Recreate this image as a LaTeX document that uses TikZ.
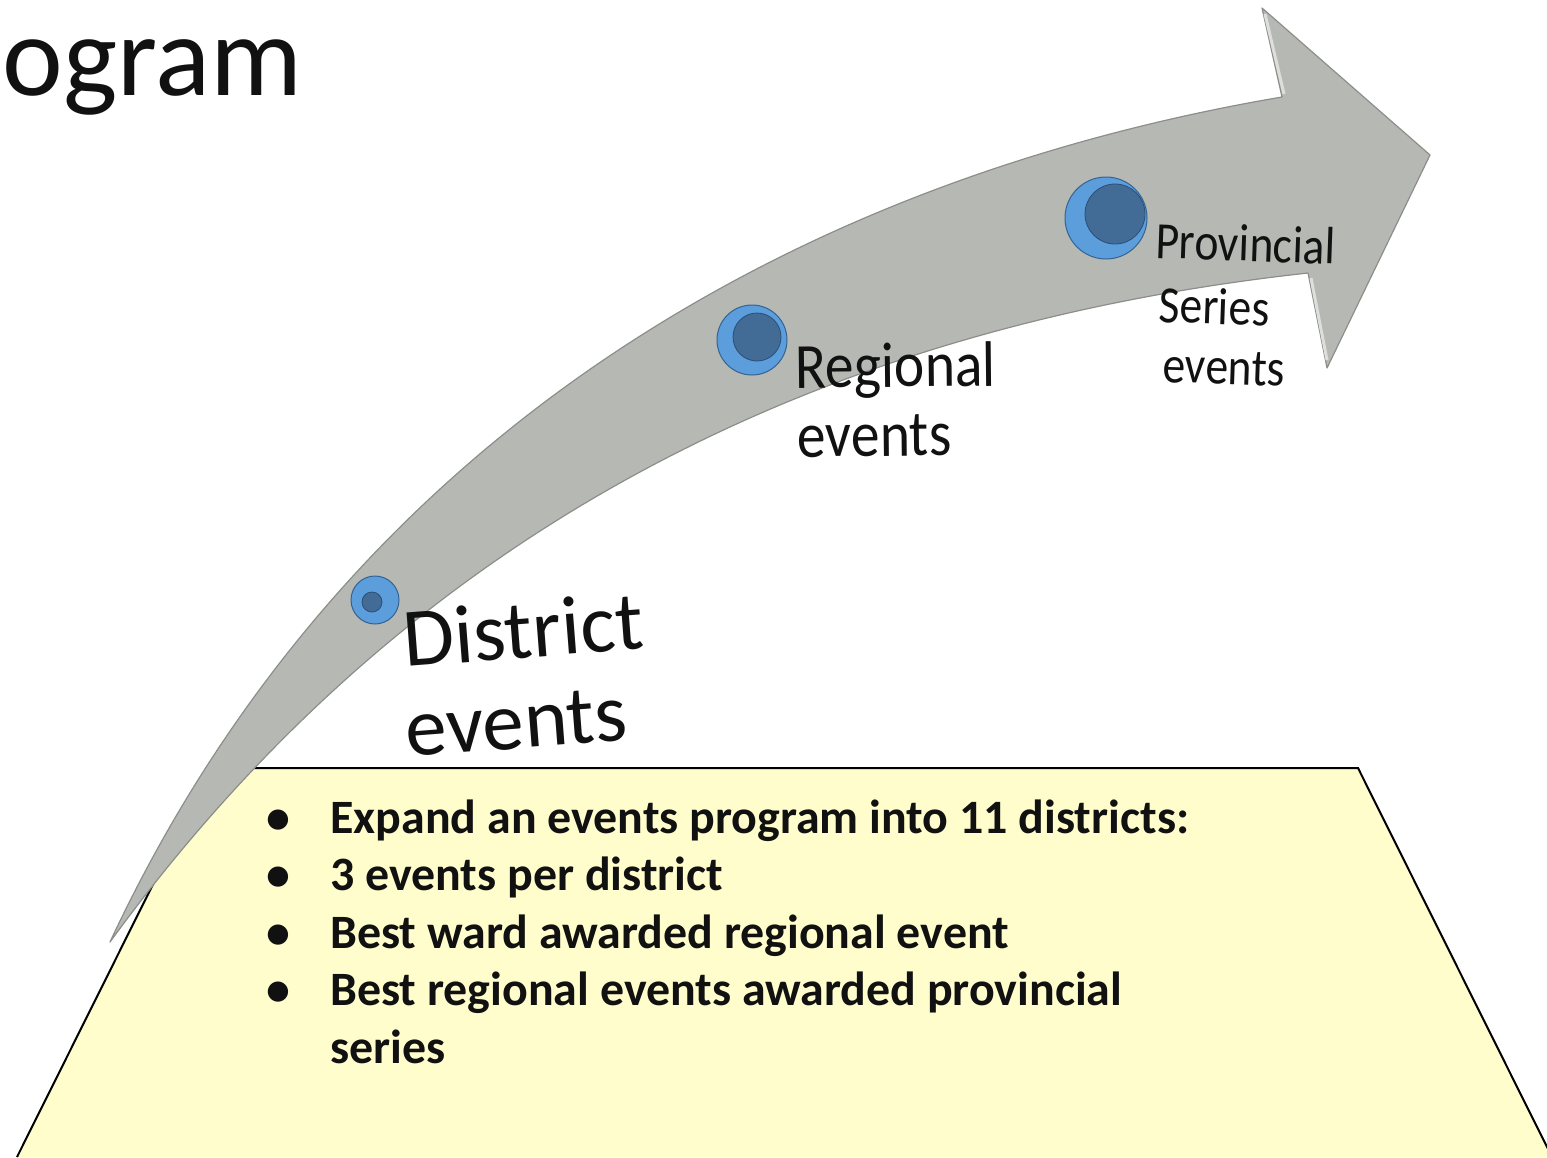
\documentclass[tikz,border=0pt]{standalone}
\usepackage{fontspec}
\setmainfont{Carlito}
\usepackage{graphicx}
\definecolor{arrowfill}{RGB}{182,184,179}
\definecolor{arrowedge}{RGB}{140,142,138}
\definecolor{arrowhi}{RGB}{222,223,220}
\definecolor{boxfill}{RGB}{255,253,204}
\definecolor{dotouter}{RGB}{92,158,220}
\definecolor{dotinner}{RGB}{66,108,150}
\definecolor{dotedge}{RGB}{52,98,146}
\definecolor{txt}{RGB}{17,17,17}
\tikzset{
  lbl/.style={anchor=base west, inner sep=0, text=txt},
  dotout/.style={circle, fill=dotouter, draw=dotedge, line width=0.5pt, inner sep=0},
  dotin/.style={circle, fill=dotinner, draw=dotedge!80!black, line width=0.4pt, inner sep=0},
}
\begin{document}
\begin{tikzpicture}[x=0.5pt,y=-0.5pt]
\useasboundingbox (0,0) rectangle (1547,1157);
% title fragment
\node[lbl, font=\fontsize{57.5}{68}\selectfont] (title) at (2,95) {ogram};
% trapezoid box
\fill[boxfill] (17,1157) -- (211,768) -- (1358,768) -- (1552,1157) -- cycle;
\draw[black, line width=1pt, line join=miter] (17,1157) -- (211,768) -- (1358,768) -- (1552,1157);
% curved arrow
\filldraw[fill=arrowfill, draw=arrowedge, line width=0.6pt, line join=round]
  (110,942) .. controls (341,447) and (782,182) .. (1282,97)
  -- (1262,8) -- (1430,155) -- (1327,368) -- (1308,273)
  .. controls (808,328) and (405,537) .. (110,942)
  -- cycle;
\draw[arrowhi, line width=1.5pt] (1265,14) -- (1284,94);
\draw[arrowhi, line width=1.5pt] (1311,278) -- (1327,360);
% dots
\node[dotout, minimum size=24pt] (d1) at (375,600) {};
\node[dotin, minimum size=10pt] (d1i) at (372,602) {};
\node[dotout, minimum size=35pt] (d2) at (752,340) {};
\node[dotin, minimum size=24pt] (d2i) at (757,337) {};
\node[dotout, minimum size=41pt] (d3) at (1106,218) {};
\node[dotin, minimum size=30pt] (d3i) at (1115,214) {};
% stage labels
\node[lbl, rotate=4.4, font=\fontsize{41.5}{48}\selectfont] (dist1) at (405,667) {District};
\node[lbl, rotate=4.4, font=\fontsize{41.5}{48}\selectfont] (dist2) at (407,757) {events};
\node[lbl, rotate=0.6, font=\fontsize{28.8}{34}\selectfont] (reg1) at (795,388) {\scalebox{1}[1.12]{Regional}};
\node[lbl, rotate=0.6, font=\fontsize{28.8}{34}\selectfont] (reg2) at (797,457) {\scalebox{1}[1.12]{events}};
\node[lbl, rotate=-2, font=\fontsize{22.8}{27}\selectfont] (prov1) at (1155,258) {\scalebox{1}[1.15]{Provincial}};
\node[lbl, rotate=-2, font=\fontsize{22.8}{27}\selectfont] (prov2) at (1158,322) {\scalebox{1}[1.15]{Series}};
\node[lbl, rotate=-2, font=\fontsize{22.8}{27}\selectfont] (prov3) at (1162,382) {\scalebox{1}[1.15]{events}};
% bullet list
\node[lbl, font=\fontsize{23.95}{28.75}\selectfont\bfseries] (list) at (226,833) {%
\begin{tabular}[t]{@{}l@{}l@{}}
\makebox[52pt][c]{\textbullet} & Expand an events program into 11 districts:\\
\makebox[52pt][c]{\textbullet} & 3 events per district\\
\makebox[52pt][c]{\textbullet} & Best ward awarded regional event\\
\makebox[52pt][c]{\textbullet} & Best regional events awarded provincial\\
 & series
\end{tabular}};
\end{tikzpicture}
\end{document}
